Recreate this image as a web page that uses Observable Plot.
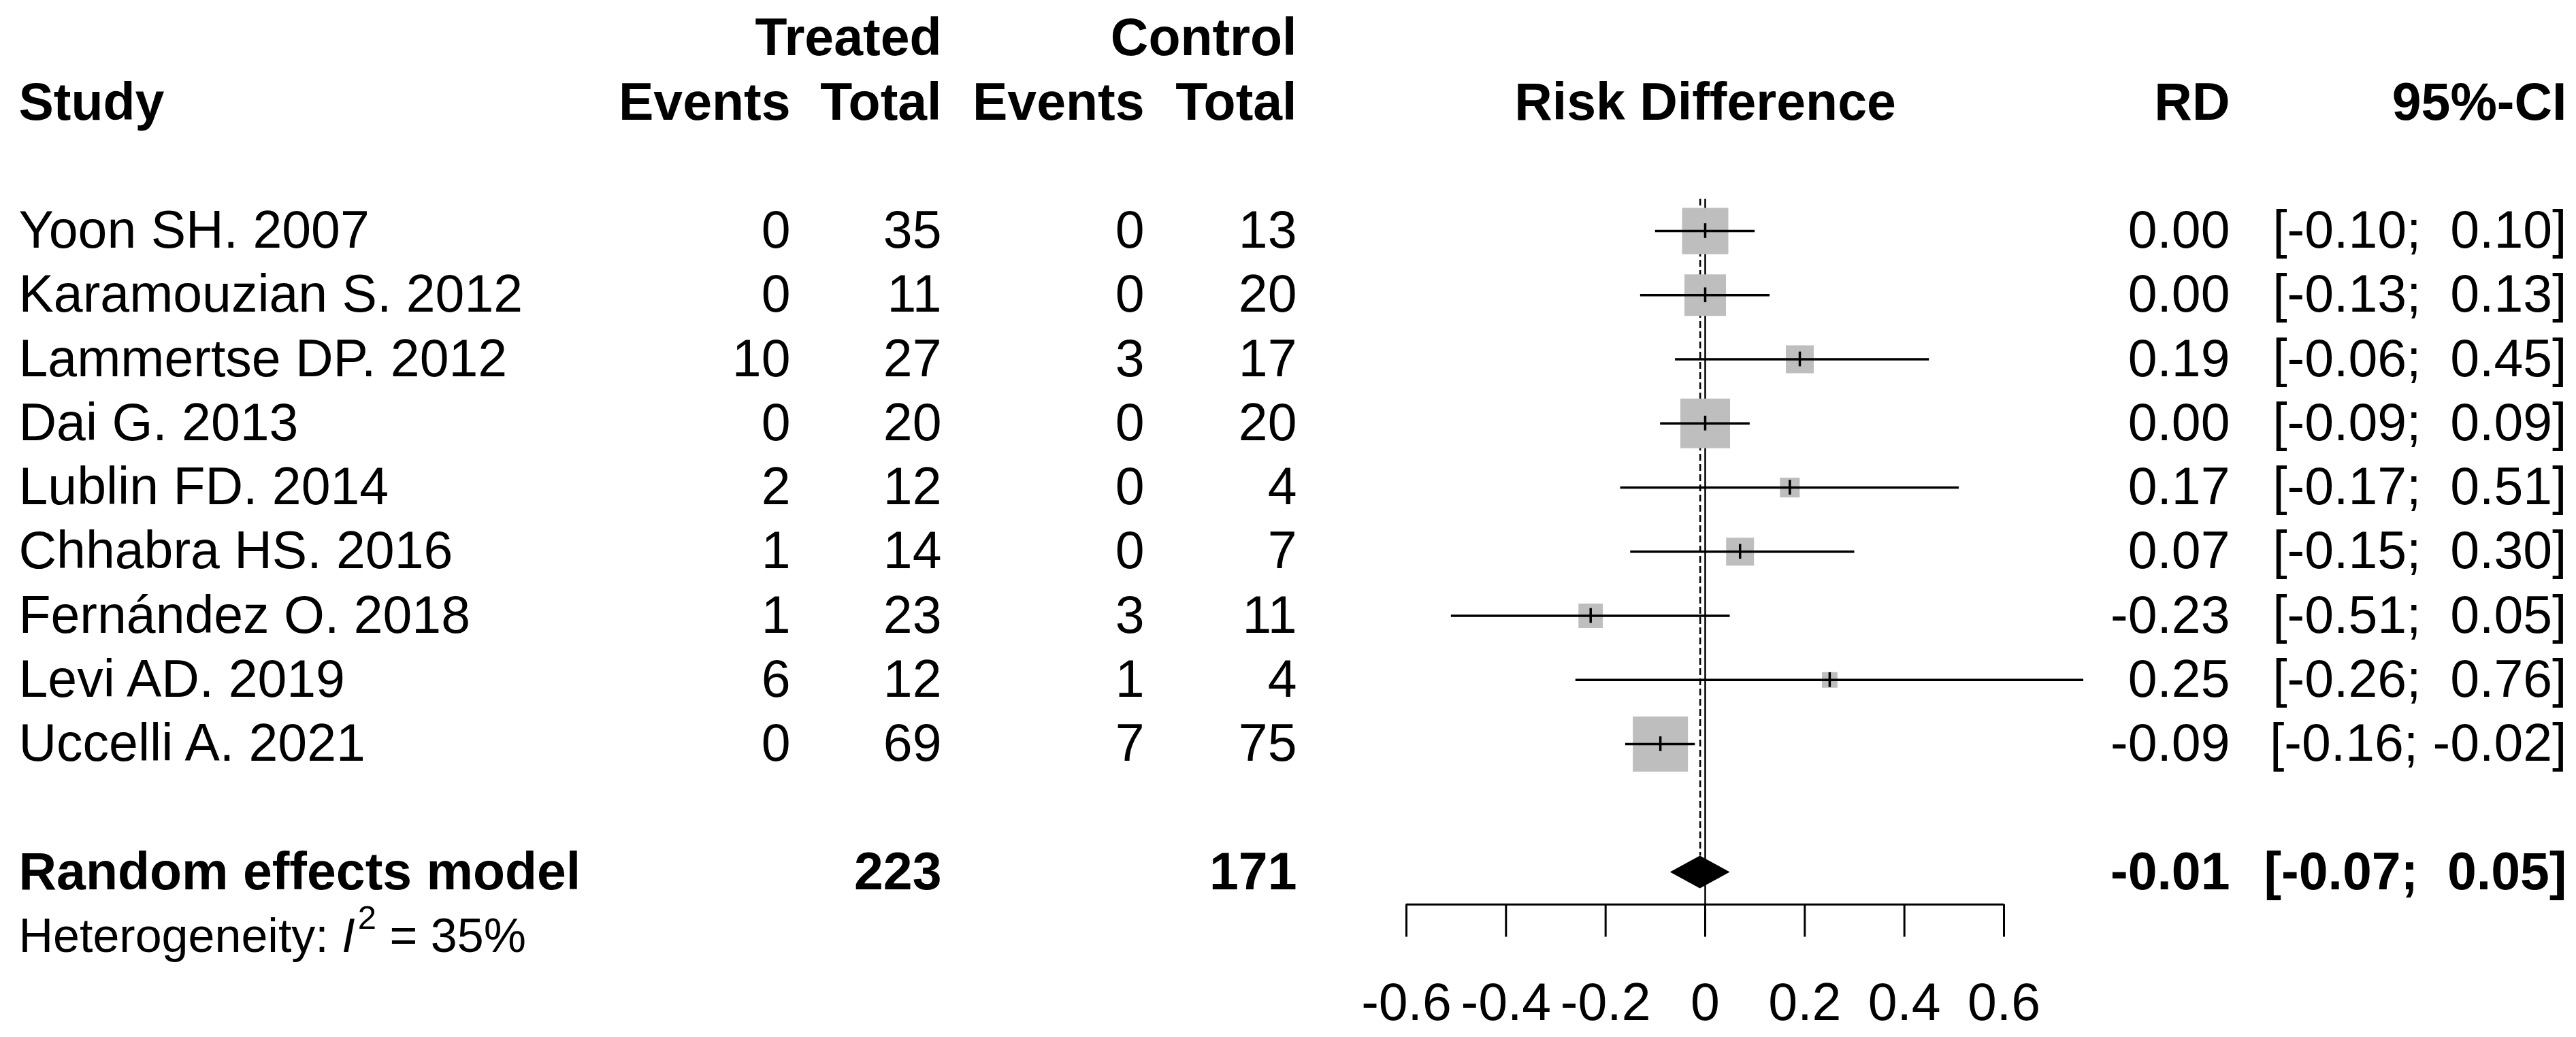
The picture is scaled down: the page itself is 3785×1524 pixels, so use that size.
<!DOCTYPE html>
<html><head><meta charset="utf-8">
<script src="https://cdn.jsdelivr.net/npm/d3@7"></script>
<script src="https://cdn.jsdelivr.net/npm/@observablehq/plot@0.6"></script>
<style>html,body{margin:0;padding:0;background:#fff;overflow:hidden}</style>
</head><body><div id="chart"></div>
<script>
// ---------- data ----------
const studies = ["Yoon SH. 2007", "Karamouzian S. 2012", "Lammertse DP. 2012", "Dai G. 2013", "Lublin FD. 2014", "Chhabra HS. 2016", "Fernández O. 2018", "Levi AD. 2019", "Uccelli A. 2021"];
const treatedEvents = [0, 0, 10, 0, 2, 1, 1, 6, 0];
const treatedTotal = [35, 11, 27, 20, 12, 14, 23, 12, 69];
const controlEvents = [0, 0, 3, 0, 0, 0, 3, 1, 7];
const controlTotal = [13, 20, 17, 20, 4, 7, 11, 4, 75];
const rd = [0.00, 0.00, 0.19, 0.00, 0.17, 0.07, -0.23, 0.25, -0.09];
const ciLower = [-0.10, -0.13, -0.06, -0.09, -0.17, -0.15, -0.51, -0.26, -0.16];
const ciUpper = [0.10, 0.13, 0.45, 0.09, 0.51, 0.30, 0.05, 0.76, -0.02];
const weights = [17.6, 14.2, 6.4, 20.3, 3.2, 6.4, 4.9, 2.0, 25.0];
const pooledLabel = "Random effects model";
const pooledTreatedTotal = 223;
const pooledControlTotal = 171;
const pooledRD = -0.01, pooledLower = -0.07, pooledUpper = 0.05;
const i2Value = 35;
const xTicks = [-0.6, -0.4, -0.2, 0, 0.2, 0.4, 0.6];
const headerGroups = ["Treated", "Control"];
const headerCols = ["Study", "Events", "Total", "Events", "Total", "Risk Difference", "RD", "95%-CI"];

// ---------- layout (pixels) ----------
const W = 3785, H = 1524;
const FS = 77, FS_HET = 70, FS_SUP = 49;
const rowTop = 339, rowStep = 94.25;
const ML = 2066, MR = 841;
const pos = {study: 27, tE: 1161, tN: 1383, cE: 1681, cN: 1905, rd: 3276, ci: 3771};
const nStudies = studies.length;
const pooledRow = nStudies + 1;        // 10
const hetRow = pooledRow + 1;          // 11
const axisRow = pooledRow + 0.5;
const topRow = -0.5;
const yPix = r => rowTop + r * rowStep;
const MB = H - yPix(axisRow);
const diamondHalf = 0.255;
const FONT = "'Liberation Sans', Arial, Helvetica, sans-serif";

const fmt = v => v.toFixed(2);
const pad = v => (v >= 0 ? "\u00a0" : "");
const ciText = (lo, hi) => `[${pad(lo)}${fmt(lo)}; ${pad(hi)}${fmt(hi)}]`;

const rows = studies.map((s, i) => ({
  row: i, study: s,
  tE: String(treatedEvents[i]), tN: String(treatedTotal[i]),
  cE: String(controlEvents[i]), cN: String(controlTotal[i]),
  rd: rd[i], lo: ciLower[i], hi: ciUpper[i], w: weights[i],
  rdText: fmt(rd[i]), ciText: ciText(ciLower[i], ciUpper[i])
}));
const pooled = [{row: pooledRow, label: pooledLabel, tN: String(pooledTreatedTotal), cN: String(pooledControlTotal),
  rdText: fmt(pooledRD), ciText: ciText(pooledLower, pooledUpper)}];
const diamond = [
  {y: pooledRow - diamondHalf, x1: pooledRD, x2: pooledRD},
  {y: pooledRow, x1: pooledLower, x2: pooledUpper},
  {y: pooledRow + diamondHalf, x1: pooledRD, x2: pooledRD}
];

// column text helper (anchored on the frame's left edge, offset to the column)
function col(data, text, y, p, anchor, extra = {}) {
  return Plot.text(data, {text, y, frameAnchor: "left", dx: p - ML, textAnchor: anchor, fontSize: FS, ...extra});
}

const hetData = [{row: hetRow}];
const hdrTop = [{row: -3}];
const hdrBot = [{row: -2}];

const chart = Plot.plot({
  width: W, height: H,
  marginLeft: ML, marginRight: MR, marginTop: 0, marginBottom: MB,
  style: {fontFamily: FONT, fontSize: FS + "px", background: "white", color: "black", overflow: "visible"},
  x: {domain: [d3.min(xTicks), d3.max(xTicks)]},
  y: {domain: [0, pooledRow], range: [yPix(0), yPix(pooledRow)], axis: null},
  r: {type: "sqrt", domain: [0, d3.max(weights)], range: [0, 81 / Math.sqrt(Math.PI)]},
  marks: [
    // reference lines
    Plot.ruleX([0], {y1: topRow, y2: axisRow, strokeWidth: 2.5, stroke: "black"}),
    Plot.ruleX([pooledRD], {y1: topRow, y2: pooledRow - diamondHalf, strokeWidth: 2.5, stroke: "black", strokeDasharray: "10,5"}),
    // study boxes
    Plot.dot(rows, {x: "rd", y: "row", r: "w", symbol: "square", fill: "#bebebe", stroke: null}),
    // CIs
    Plot.ruleY(rows, {y: "row", x1: "lo", x2: "hi", strokeWidth: 3.5, stroke: "black"}),
    Plot.ruleX(rows, {x: "rd", y1: d => d.row - 0.115, y2: d => d.row + 0.115, strokeWidth: 3.5, stroke: "black"}),
    // pooled diamond
    Plot.areaX(diamond, {y: "y", x1: "x1", x2: "x2", fill: "black", curve: "linear"}),
    // axis
    Plot.ruleY([axisRow], {x1: d3.min(xTicks), x2: d3.max(xTicks), strokeWidth: 3, stroke: "black"}),
    Plot.axisX({ticks: xTicks, tickSize: 48, tickPadding: 67, tickFormat: d => String(d), fontSize: FS, strokeWidth: 3, label: null}),
    // headers
    col(hdrTop, () => headerGroups[0], "row", pos.tN, "end", {fontWeight: "bold"}),
    col(hdrTop, () => headerGroups[1], "row", pos.cN, "end", {fontWeight: "bold"}),
    col(hdrBot, () => headerCols[0], "row", pos.study, "start", {fontWeight: "bold"}),
    col(hdrBot, () => headerCols[1], "row", pos.tE, "end", {fontWeight: "bold"}),
    col(hdrBot, () => headerCols[2], "row", pos.tN, "end", {fontWeight: "bold"}),
    col(hdrBot, () => headerCols[3], "row", pos.cE, "end", {fontWeight: "bold"}),
    col(hdrBot, () => headerCols[4], "row", pos.cN, "end", {fontWeight: "bold"}),
    Plot.text(hdrBot, {y: "row", text: () => headerCols[5], frameAnchor: "middle", textAnchor: "middle", fontSize: FS, fontWeight: "bold"}),
    col(hdrBot, () => headerCols[6], "row", pos.rd, "end", {fontWeight: "bold"}),
    col(hdrBot, () => headerCols[7], "row", pos.ci, "end", {fontWeight: "bold"}),
    // study rows
    col(rows, "study", "row", pos.study, "start"),
    col(rows, "tE", "row", pos.tE, "end"),
    col(rows, "tN", "row", pos.tN, "end"),
    col(rows, "cE", "row", pos.cE, "end"),
    col(rows, "cN", "row", pos.cN, "end"),
    col(rows, "rdText", "row", pos.rd, "end"),
    col(rows, "ciText", "row", pos.ci, "end"),
    // pooled row
    col(pooled, "label", "row", pos.study, "start", {fontWeight: "bold"}),
    col(pooled, "tN", "row", pos.tN, "end", {fontWeight: "bold"}),
    col(pooled, "cN", "row", pos.cN, "end", {fontWeight: "bold"}),
    col(pooled, "rdText", "row", pos.rd, "end", {fontWeight: "bold"}),
    col(pooled, "ciText", "row", pos.ci, "end", {fontWeight: "bold"}),
    // heterogeneity (single text; rich formatting applied below)
    col(hetData, () => `Heterogeneity: I2 = ${i2Value}%`, "row", pos.study, "start", {fontSize: FS_HET})
  ]
});

// turn the heterogeneity text into "Heterogeneity: I² = 35%" with italic I and a raised 2
for (const t of chart.querySelectorAll("text")) {
  if (t.textContent.startsWith("Heterogeneity:")) {
    const ns = "http://www.w3.org/2000/svg";
    while (t.firstChild) t.removeChild(t.firstChild);
    const parts = [
      {s: "Heterogeneity: "},
      {s: "I", style: "italic"},
      {s: "\u200a2", size: FS_SUP, dy: -34},
      {s: `\u00a0= ${i2Value}%`, dy: 34}
    ];
    for (const p of parts) {
      const sp = document.createElementNS(ns, "tspan");
      sp.textContent = p.s;
      if (p.style) sp.setAttribute("font-style", p.style);
      if (p.size) sp.setAttribute("font-size", p.size);
      if (p.dy) sp.setAttribute("dy", p.dy);
      t.appendChild(sp);
    }
  }
}
document.getElementById("chart").appendChild(chart);
</script>
</body></html>
